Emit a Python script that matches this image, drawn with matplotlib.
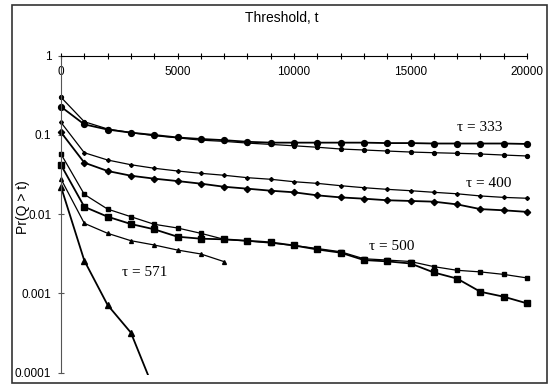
import matplotlib
matplotlib.use("Agg")
import matplotlib.pyplot as plt
from matplotlib.patches import Rectangle

plt.rcParams['font.family'] = ['Liberation Sans', 'DejaVu Sans']

# thresholds (every 1000)
t = list(range(0, 20001, 1000))

# tau = 333
a333 = [0.227, 0.136, 0.117, 0.107, 0.100, 0.093, 0.089, 0.086, 0.082, 0.080, 0.080,
        0.080, 0.080, 0.080, 0.079, 0.079, 0.078, 0.078, 0.078, 0.078, 0.077]
b333 = [0.299, 0.147, 0.119, 0.107, 0.098, 0.092, 0.086, 0.083, 0.079, 0.076, 0.073,
        0.070, 0.0665, 0.0646, 0.0627, 0.0609, 0.0597, 0.0587, 0.0575, 0.0558, 0.0543]
# tau = 400
a400 = [0.108, 0.0447, 0.0351, 0.0306, 0.0281, 0.0262, 0.0243, 0.0222, 0.0210, 0.0198, 0.0189,
        0.0173, 0.0163, 0.0157, 0.0150, 0.0147, 0.0144, 0.0133, 0.0116, 0.0112, 0.0107]
b400 = [0.144, 0.0597, 0.0483, 0.0421, 0.0380, 0.0351, 0.0328, 0.0310, 0.0289, 0.0276, 0.0257,
        0.0245, 0.0229, 0.0216, 0.0206, 0.0198, 0.0189, 0.0181, 0.0170, 0.0163, 0.0159]
# tau = 500
a500 = [0.0418, 0.0124, 0.0093, 0.00752, 0.00645, 0.0052, 0.00491, 0.00482, 0.00463, 0.00442, 0.00403,
        0.00359, 0.00327, 0.00264, 0.00254, 0.00239, 0.00184, 0.00154, 0.00105, 0.00091, 0.00075]
b500 = [0.0575, 0.0178, 0.0116, 0.0093, 0.00746, 0.0067, 0.00574, 0.00482, 0.00459, 0.00433, 0.00403,
        0.00369, 0.00336, 0.00274, 0.00264, 0.00253, 0.00218, 0.00196, 0.00187, 0.00174, 0.00157]
# tau = 571
t571a = [0, 1000, 2000, 3000, 4000]
a571 = [0.0222, 0.0026, 0.000715, 0.00032, 0.00006]
t571b = [0, 1000, 2000, 3000, 4000, 5000, 6000, 7000]
b571 = [0.0278, 0.00768, 0.00574, 0.00463, 0.00409, 0.00353, 0.00315, 0.00252]

fig = plt.figure(figsize=(5.49, 3.84), dpi=100)
# axes spans most of the frame, x=0 / y=1 lines drawn as spines
W, H = 549.0, 384.0
ax = fig.add_axes([12 / W, (H - 375) / H, 535 / W, 370 / H])
ax.set_yscale('log')
ax.set_xlim(-2103, 20858)
ax.set_ylim(10 ** -4.029, 10 ** 0.64)
ax.patch.set_alpha(0)

ax.plot(t, b333, '-o', color='black', lw=0.9, ms=2.8)
ax.plot(t, a333, '-o', color='black', lw=1.3, ms=4.2)
ax.plot(t, b400, '-D', color='black', lw=0.9, ms=2.0)
ax.plot(t, a400, '-D', color='black', lw=1.3, ms=3.2)
ax.plot(t, b500, '-s', color='black', lw=0.9, ms=2.8)
ax.plot(t, a500, '-s', color='black', lw=1.3, ms=4.3)
ax.plot(t571b, b571, '-^', color='black', lw=0.9, ms=2.8)
ax.plot(t571a, a571, '-^', color='black', lw=1.3, ms=4.2)

for s in ['right', 'top']:
    ax.spines[s].set_visible(False)
ax.spines['bottom'].set_position(('data', 1))
ax.spines['bottom'].set_bounds(0, 20000)
ax.spines['left'].set_position(('data', 0))
ax.spines['left'].set_bounds(1e-4, 1)
ax.spines['left'].set_color('#555555')

ax.set_xticks(t)
ax.set_xticklabels([str(v) if v % 5000 == 0 else '' for v in t])
ax.tick_params(axis='x', direction='inout', length=5, width=0.8, pad=5, labelsize=8.5)
ax.set_yticks([1e-4, 1e-3, 1e-2, 1e-1, 1])
ax.set_yticklabels(['0.0001', '0.001', '0.01', '0.1', '1'])
ax.yaxis.set_minor_locator(matplotlib.ticker.NullLocator())
ax.tick_params(axis='y', direction='inout', length=4, width=0.8, pad=5, labelsize=8.5,
               color='#555555')

serif = ['Liberation Serif', 'DejaVu Serif']
ax.text(17980, 0.124, u'\u03c4 = 333', family=serif, fontsize=11, ha='center', va='center')
ax.text(18370, 0.0244, u'\u03c4 = 400', family=serif, fontsize=11, ha='center', va='center')
ax.text(14200, 0.00397, u'\u03c4 = 500', family=serif, fontsize=11, ha='center', va='center')
ax.text(3580, 0.00184, u'\u03c4 = 571', family=serif, fontsize=11, ha='center', va='center')

fig.text(282 / W, 1 - 18 / H, 'Threshold, t', fontsize=10, ha='center', va='center')
fig.text(23 / W, 1 - 207 / H, 'Pr(Q > t)', fontsize=10, rotation=90, ha='center', va='center')

fig.patches.append(Rectangle((12 / W, 1 / H), 535 / W, 378 / H, transform=fig.transFigure,
                             fill=False, edgecolor='#333333', lw=1.2))

fig.savefig('out.png', dpi=100)
